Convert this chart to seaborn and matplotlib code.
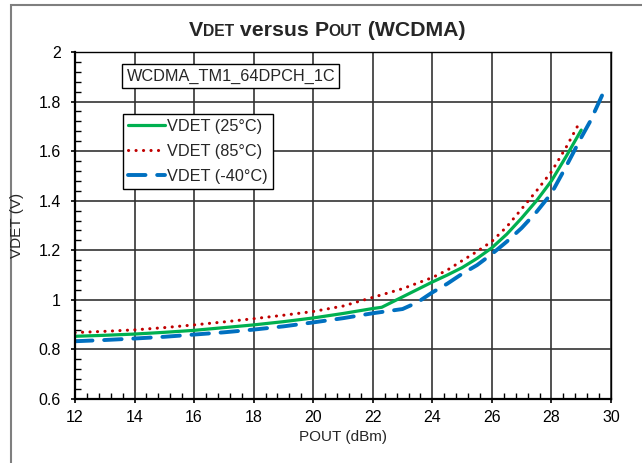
import matplotlib
matplotlib.use("Agg")
import matplotlib.pyplot as plt
import matplotlib.transforms as mtransforms
from matplotlib.patches import Rectangle
from matplotlib.ticker import MultipleLocator, FuncFormatter
import numpy as np
import pandas as pd
import seaborn as sns

# values
pout_25 = [12, 13, 14, 15, 16, 17, 18, 19, 20, 21, 22, 22.3, 23, 24, 24.5, 25, 25.5,
           26, 26.5, 27, 27.5, 28, 28.5, 29]
vdet_25 = [0.853, 0.857, 0.862, 0.869, 0.877, 0.888, 0.899, 0.912, 0.927, 0.945, 0.965,
           0.970, 1.012, 1.072, 1.100, 1.130, 1.167, 1.210, 1.265, 1.330, 1.400, 1.480,
           1.580, 1.685]

pout_85 = [12, 13, 14, 15, 16, 17, 18, 19, 20, 21, 22, 23, 24, 24.5, 25, 25.5, 26, 26.5,
           27, 27.5, 28, 28.5, 28.9]
vdet_85 = [0.868, 0.873, 0.879, 0.888, 0.899, 0.911, 0.924, 0.938, 0.953, 0.975, 1.010,
           1.045, 1.090, 1.120, 1.158, 1.195, 1.236, 1.295, 1.367, 1.440, 1.517, 1.617,
           1.706]

pout_m40 = [12, 13, 14, 15, 16, 17, 18, 19, 20, 21, 22, 23, 23.5, 24, 24.5, 25, 25.5, 26,
            26.5, 27, 27.5, 28, 28.5, 29, 29.3, 29.8]
vdet_m40 = [0.833, 0.838, 0.844, 0.851, 0.860, 0.869, 0.880, 0.893, 0.909, 0.926, 0.946,
            0.963, 0.990, 1.030, 1.065, 1.105, 1.140, 1.185, 1.235, 1.290, 1.355, 1.430,
            1.540, 1.655, 1.720, 1.851]

labels = ["VDET (25°C)", "VDET (85°C)", "VDET (-40°C)"]
colors = ["#00B050", "#C00000", "#0070C0"]
note = "WCDMA_TM1_64DPCH_1C"

sns.set_theme(style="white")
plt.rcParams["font.family"] = ["Liberation Sans", "DejaVu Sans"]

W, H, DPI = 642, 463, 100
fig = plt.figure(figsize=(W / DPI, H / DPI), dpi=DPI)
ax = fig.add_axes([75 / W, 1 - 399 / H, 536 / W, 347 / H])

# outer chart frame (right/bottom edges lie off the image)
fig.patches.append(Rectangle((11 / W, -0.2), 1.5, 0.2 + 1 - 4.5 / H,
                             transform=fig.transFigure, fill=False,
                             edgecolor="#7f7f7f", lw=1.5, clip_on=False))

series = [(pout_25, vdet_25), (pout_85, vdet_85), (pout_m40, vdet_m40)]
styles = [dict(lw=2.3, linestyle="-", solid_capstyle="round"),
          dict(lw=2.2, linestyle=(0, (0.05, 2.4)), dash_capstyle="round"),
          dict(lw=2.8, linestyle=(0, (4.5, 3.0)), dash_capstyle="round")]
for (x, y), lab, c, st in zip(series, labels, colors, styles):
    df = pd.DataFrame({"pout": x, "vdet": y})
    sns.lineplot(data=df, x="pout", y="vdet", ax=ax, color=c, label=lab,
                 sort=False, estimator=None, **st)

ax.set_xlim(12, 30)
ax.set_ylim(0.6, 2.0)
ax.xaxis.set_major_locator(MultipleLocator(2))
ax.xaxis.set_minor_locator(MultipleLocator(0.4))
ax.yaxis.set_major_locator(MultipleLocator(0.2))
ax.yaxis.set_minor_locator(MultipleLocator(0.04))
ax.yaxis.set_major_formatter(FuncFormatter(lambda v, p: f"{v:g}"))
ax.grid(True, which="major", color="#333333", lw=1.2)
ax.set_axisbelow(True)
ax.set_xlabel("")
ax.set_ylabel("")

for side in ["left", "bottom"]:
    ax.spines[side].set_linewidth(1.6)
    ax.spines[side].set_color("black")
for side in ["top", "right"]:
    ax.spines[side].set_linewidth(1.0)
    ax.spines[side].set_color("black")

ax.tick_params(which="major", direction="out", length=3, width=1.2, colors="black",
               labelsize=11.5, bottom=True, left=True)
ax.tick_params(axis="x", which="major", pad=5)
ax.tick_params(axis="y", which="major", pad=7)
ax.tick_params(which="minor", direction="in", length=4, width=1.0, colors="black",
               bottom=True, left=True)

leg = ax.legend(loc="upper left", bbox_to_anchor=((122.7 - 75) / 536, (399 - 114) / 347),
                borderaxespad=0, fontsize=11.7, handlelength=2.3, handletextpad=0.15,
                labelspacing=0.62, borderpad=0.3, fancybox=False, framealpha=1,
                edgecolor="black")
leg.get_frame().set_linewidth(1.0)

ax.text((126.5 - 75) / 536, (399 - 76) / 347, note, transform=ax.transAxes,
        ha="left", va="center", fontsize=11.7,
        bbox=dict(boxstyle="square,pad=0.25", fc="white", ec="black", lw=1.0))

# small-caps style title, laid out piece by piece in pixel space
renderer = fig.canvas.get_renderer()
px = mtransforms.IdentityTransform()


def piece_text(x, y, parts, **kw):
    widths = []
    for s, size in parts:
        t = fig.text(0, 0, s, fontsize=size, transform=px, **kw)
        widths.append(t.get_window_extent(renderer).width)
        t.remove()
    pos = x - sum(widths) / 2
    for (s, size), w in zip(parts, widths):
        fig.text(pos, y, s, fontsize=size, transform=px, ha="left",
                 va="baseline", **kw)
        pos += w


piece_text(327, H - 36, [("V", 15.3), ("DET", 11.3), (" versus ", 15.3), ("P", 15.3),
                         ("OUT", 11.3), (" (WCDMA)", 15.3)], fontweight="bold")
fig.text(343 / W, 1 - 437 / H, "POUT (dBm)", ha="center", va="center", fontsize=11)
fig.text(17 / W, 1 - 225.5 / H, "VDET (V)", ha="center", va="center", fontsize=11,
         rotation=90)

fig.savefig("out.png", dpi=DPI)
